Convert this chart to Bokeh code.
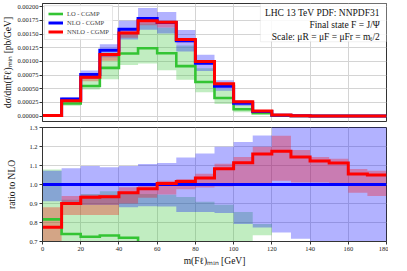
import numpy as np
from bokeh.plotting import figure
from bokeh.layouts import column
from bokeh.models import Range1d, FixedTicker, Legend, LegendItem, Label, BoxAnnotation, PrintfTickFormatter
from bokeh.embed import file_html
from bokeh.resources import INLINE

# ---------------- data ----------------
bin_edges = [0, 10, 20, 30, 40, 50, 60, 70, 80, 90, 100, 110, 120, 130, 140, 150, 160, 170, 180]
x_ticks = [0, 20, 40, 60, 80, 100, 120, 140, 160, 180]
top_y_ticks = [0.0, 0.00025, 0.0005, 0.00075, 0.001, 0.00125, 0.0015, 0.00175, 0.002]
ratio_ticks = [0.7, 0.8, 0.9, 1.0, 1.1, 1.2, 1.3]

nlo = [1.2e-5, 3.11e-4, 7.59e-4, 1.206e-3, 1.59e-3, 1.785e-3, 1.71e-3, 1.38e-3, 9.64e-4,
       5.47e-4, 2.36e-4, 8.1e-5, 1.6e-5, 4.5e-6, 2.5e-6, 1.5e-6, 9e-7, 6e-7]
nnlo = [9.3e-6, 2.80e-4, 7.08e-4, 1.128e-3, 1.522e-3, 1.744e-3, 1.719e-3, 1.402e-3, 9.97e-4,
        5.92e-4, 2.63e-4, 9.4e-5, 1.88e-5, 5.15e-6, 2.81e-6, 1.67e-6, 9.5e-7, 6.3e-7]
lo = [9.8e-6, 2.30e-4, 5.50e-4, 8.82e-4, 1.145e-3, 1.24e-3, 1.15e-3, 9.14e-4, 6.22e-4,
      3.3e-4, 1.24e-4, 5.0e-5, 8e-6, 2e-6, 1e-6, 5e-7, 3e-7, 2e-7]

# scale-uncertainty bands, as ratio to NLO central
nlo_up = [1.073, 1.086, 1.097, 1.091, 1.097, 1.108, 1.113, 1.142, 1.163, 1.199, 1.224, 1.258,
          1.33, 1.36, 1.40, 1.42, 1.45, 1.48]
nlo_dn = [0.912, 0.892, 0.892, 0.892, 0.88, 0.885, 0.884, 0.855, 0.855, 0.85, 0.792, 0.774,
          0.747, 0.715, 0.66, 0.62, 0.60, 0.58]
nnlo_up = [0.88, 0.94, 0.946, 0.946, 0.985, 1.005, 1.02, 1.029, 1.056, 1.109, 1.145, 1.199,
           1.256, 1.181, 1.145, 1.136, 1.082, 1.073]
nnlo_dn = [0.62, 0.84, 0.84, 0.84, 0.90, 0.93, 0.948, 0.975, 0.984, 0.99, 1.0, 1.0,
           1.02, 1.011, 1.011, 1.0, 0.957, 0.939]
lo_up = [1.079, 0.92, 0.95, 0.964, 0.95, 0.95, 0.946, 0.934, 0.909, 0.894, 0.855, 0.792,
         0.65, 0.6, 0.6, 0.6, 0.6, 0.6]
lo_dn = [0.62, 0.6, 0.64, 0.56, 0.587, 0.54, 0.49, 0.48, 0.45, 0.4, 0.3, 0.733,
         0.4, 0.4, 0.4, 0.4, 0.4, 0.4]

info_lines = ["LHC 13 TeV PDF: NNPDF31", "Final state F = J/\u03a8",
              "Scale: \u03bcR = \u03bcF = \u03bcFr = m\u209c/2"]

# ---------------- style ----------------
FONT = "Liberation Serif"
C_LO, C_NLO, C_NNLO = "#33c433", "#0000ff", "#ff0000"
GRID = "#d4d4d4"
FRAME = "#333333"

edges = np.array(bin_edges, dtype=float)
NLO = np.array(nlo)


def step_line(vals):
    v = np.asarray(vals, dtype=float)
    return edges, np.append(v, v[-1])


def step_area(lower, upper):
    xs = np.repeat(edges, 2)[1:-1]
    return xs, np.repeat(np.asarray(lower, float), 2), np.repeat(np.asarray(upper, float), 2)


def base_fig(fh, yr, mbt, mbb):
    p = figure(frame_width=344, frame_height=fh, x_range=Range1d(0, 180), y_range=yr,
               output_backend="svg", toolbar_location=None,
               min_border_left=38, min_border_right=6, min_border_top=mbt, min_border_bottom=mbb,
               background_fill_color="white", border_fill_color="white")
    p.outline_line_color = FRAME
    p.outline_line_width = 1
    p.outline_line_alpha = 1
    for ax in (p.xaxis, p.yaxis):
        ax.axis_line_color = FRAME
        ax.major_tick_line_color = FRAME
        ax.minor_tick_line_color = None
        ax.major_tick_in = 0
        ax.major_tick_out = 3
        ax.major_label_text_font = FONT
        ax.major_label_text_font_size = "6.5px"
        ax.major_label_text_color = "#222222"
        ax.major_label_standoff = 2
        ax.axis_label_text_font = FONT
        ax.axis_label_text_font_size = "9.5px"
        ax.axis_label_text_font_style = "normal"
        ax.axis_label_text_color = "#111111"
        ax.axis_label_standoff = 2
    p.xaxis.ticker = FixedTicker(ticks=x_ticks)
    p.xgrid.ticker = FixedTicker(ticks=x_ticks)
    for g in (p.xgrid, p.ygrid):
        g.grid_line_color = GRID
        g.grid_line_width = 1
    return p


# ---------------- top panel ----------------
top = base_fig(118, Range1d(-0.0001, 0.00206), 3, 3)
top.xaxis.visible = False
top.yaxis.ticker = FixedTicker(ticks=top_y_ticks)
top.ygrid.ticker = FixedTicker(ticks=top_y_ticks)
top.yaxis.formatter = PrintfTickFormatter(format="%.5f")
top.yaxis.axis_label = "d\u03c3/dm(F\u2113)\u2098\u1d62\u2099 [pb/GeV]"
top.yaxis.major_label_standoff = 1
top.yaxis.axis_label_standoff = 1

for up, dn, col in ((lo_up, lo_dn, C_LO), (nlo_up, nlo_dn, C_NLO), (nnlo_up, nnlo_dn, C_NNLO)):
    xs, y1, y2 = step_area(np.array(dn) * NLO, np.array(up) * NLO)
    top.varea(x=xs, y1=y1, y2=y2, fill_color=col, fill_alpha=0.3)

items = []
for vals, col, name, w in ((lo, C_LO, "LO - CGMP", 2.6), (nlo, C_NLO, "NLO - CGMP", 3),
                           (nnlo, C_NNLO, "NNLO - CGMP", 3)):
    xs, ys = step_line(vals)
    r = top.step(x=xs, y=ys, mode="after", line_color=col, line_width=w, line_join="miter")
    items.append(LegendItem(label=name, renderers=[r]))

leg = Legend(items=items, location="top_left", margin=2, padding=3, spacing=0,
             glyph_width=15, glyph_height=9, label_height=9, label_standoff=4,
             label_text_font=FONT, label_text_font_size="6.5px",
             border_line_color="#cccccc", border_line_width=1,
             background_fill_color="white", background_fill_alpha=0.85)
top.add_layout(leg)

top.add_layout(BoxAnnotation(left=114, right=180, bottom=0.00136, top=0.00206,
                             fill_color="white", fill_alpha=0.85,
                             line_color="#cccccc", line_width=1))
for txt, yv in zip(info_lines, (0.001884, 0.001665, 0.001446)):
    top.add_layout(Label(x=176.5, y=yv, text=txt, text_align="right", text_baseline="middle",
                         text_font=FONT, text_font_size="9.5px", text_color="#111111"))

# ---------------- ratio panel ----------------
bot = base_fig(114, Range1d(0.7, 1.3), 3, 0)
bot.yaxis.ticker = FixedTicker(ticks=ratio_ticks)
bot.ygrid.ticker = FixedTicker(ticks=ratio_ticks)
bot.yaxis.formatter = PrintfTickFormatter(format="%.1f")
bot.yaxis.axis_label = "ratio to NLO"
bot.yaxis.axis_label_standoff = 9
bot.xaxis.axis_label = "m(F\u2113)\u2098\u1d62\u2099 [GeV]"

for up, dn, col in ((lo_up, lo_dn, C_LO), (nlo_up, nlo_dn, C_NLO), (nnlo_up, nnlo_dn, C_NNLO)):
    xs, y1, y2 = step_area(dn, up)
    bot.varea(x=xs, y1=y1, y2=y2, fill_color=col, fill_alpha=0.3)

for vals, col, w in ((lo, C_LO, 2.6), (nlo, C_NLO, 3), (nnlo, C_NNLO, 3)):
    xs, ys = step_line(np.array(vals) / NLO)
    bot.step(x=xs, y=ys, mode="after", line_color=col, line_width=w, line_join="miter")

layout = column(top, bot, spacing=0)
open("out.html", "w").write(file_html(layout, INLINE))
